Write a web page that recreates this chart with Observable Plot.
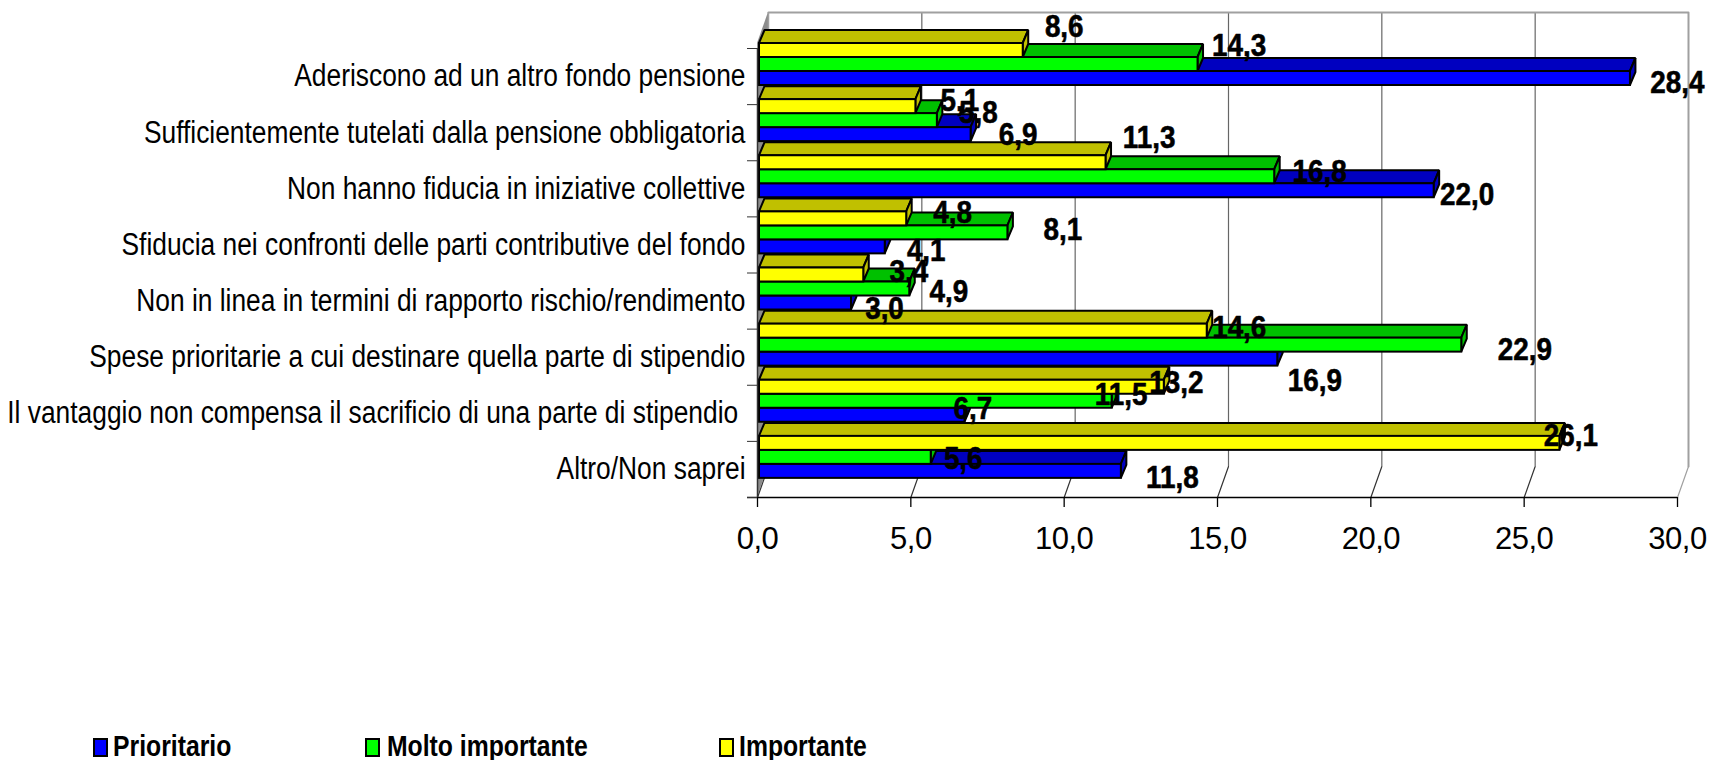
<!DOCTYPE html>
<html><head><meta charset="utf-8">
<script src="https://cdn.jsdelivr.net/npm/d3@7"></script>
<script src="https://cdn.jsdelivr.net/npm/@observablehq/plot@0.6"></script>
<style>
html,body{margin:0;padding:0;background:#fff;overflow:hidden}
#chart{width:1710px;height:760px;position:relative}
svg{display:block}
.ax text{letter-spacing:-.5px}
.leg{position:absolute;top:729px;font:bold 30px "Liberation Sans",Arial,sans-serif;color:#000;white-space:nowrap;transform:scaleX(.825);transform-origin:left center}
.sw{position:absolute;top:738px;box-sizing:border-box;width:15px;height:19px;border:2px solid #000}
</style></head><body><div id="chart"></div>
<script>
const categories = ["Aderiscono ad un altro fondo pensione","Sufficientemente tutelati dalla pensione obbligatoria","Non hanno fiducia in iniziative collettive","Sfiducia nei confronti delle parti contributive del fondo","Non in linea in termini di rapporto rischio/rendimento","Spese prioritarie a cui destinare quella parte di stipendio","Il vantaggio non compensa il sacrificio di una parte di stipendio\u00a0","Altro/Non saprei"];
const prioritario = [28.4,6.9,22.0,4.1,3.0,16.9,6.7,11.8];
const moltoImportante = [14.3,5.8,16.8,8.1,4.9,22.9,11.5,5.6];
const importante = [8.6,5.1,11.3,4.8,3.4,14.6,13.2,26.1];
const xTicks = [0,5,10,15,20,25,30];

// Series, in drawing order (lowest bar of each group first)
const series = [
  {name:"Prioritario", values:prioritario, front:"#0000ff", top:"#0000c0", slot:2},
  {name:"Molto importante", values:moltoImportante, front:"#00ff00", top:"#00c000", slot:1},
  {name:"Importante", values:importante, front:"#ffff00", top:"#c0c000", slot:0}
];
// Pixel nudges of the value labels, [dx, dy] by series then category
const labelShift = {
  "Prioritario":[[47,4],[47,0],[33,4],[41,4],[33,6],[37,22],[8,-7],[51,6]],
  "Molto importante":[[41,-19],[41,-8],[45,-5],[55,-3],[39,3],[63,5],[9,-7],[32,1]],
  "Importante":[[41,-24],[44,-6],[43,-25],[46,-6],[45,-3],[32,-3],[12,-5],[11,-8]]
};

const W = 1710, H = 570, left = 757, right = 1677, bottom = 497, firstTick = 48;
const pxX = (right-left)/30, pxY = (bottom-firstTick)/8;
const ux = p => p/pxX, uy = p => p/pxY;
const barH = uy(14), barStart = uy(-5), barX = ux(2);
const depthX = ux(5.5), depthY = uy(13);
const wallX = ux(11), wallY = uy(31);
const backTop = uy(12-firstTick);
const font = '"Liberation Sans",Arial,sans-serif';
const fmt = d => d.toFixed(1).replace(".",",");

const marks = [];
// Left wall
marks.push(Plot.areaY([{x:0,y1:barStart,y2:8},{x:wallX,y1:backTop,y2:8-wallY}],{x:"x",y1:"y1",y2:"y2",fill:"#8c8c8c"}));
// Back wall grid
marks.push(Plot.ruleX(xTicks.slice(1,-1),{x:d=>d+wallX,y1:backTop,y2:8-wallY,stroke:"#666",strokeWidth:1.2}));
marks.push(Plot.line([{x:wallX,y:backTop},{x:30+wallX,y:backTop},{x:30+wallX,y:8-wallY}],{x:"x",y:"y",stroke:"#a0a0a0",strokeWidth:2}));
marks.push(Plot.ruleX([0],{x:wallX,y1:backTop,y2:8-wallY,stroke:"#a0a0a0",strokeWidth:1.5}));
// Floor diagonals
xTicks.forEach(t=>{
  marks.push(Plot.line([{x:t,y:8},{x:t+wallX,y:8-wallY}],{x:"x",y:"y",stroke:t===30?"#a0a0a0":"#333",strokeWidth:1.2}));
});
// Bars
categories.forEach((c,k)=>{
  series.forEach(s=>{
    const v = s.values[k];
    const y1 = k+barStart+s.slot*barH, y2 = y1+barH;
    const xa = barX/1, xb = v+barX;
    const line = {stroke:"#000",strokeWidth:2,strokeLinejoin:"miter"};
    marks.push(Plot.areaX([{y:y1,x1:xa,x2:xb},{y:y1-depthY,x1:xa+depthX,x2:xb+depthX}],{x1:"x1",x2:"x2",y:"y",fill:s.top,...line}));
    marks.push(Plot.areaY([{x:xb,y1:y1,y2:y2},{x:xb+depthX,y1:y1-depthY,y2:y2-depthY}],{x:"x",y1:"y1",y2:"y2",fill:s.top,...line}));
    marks.push(Plot.rect([{x1:xa,x2:xb,y1,y2}],{x1:"x1",x2:"x2",y1:"y1",y2:"y2",fill:s.front,...line}));
  });
});
// Axes
marks.push(Plot.ruleY([8],{x1:-ux(10),x2:30,stroke:"#000",strokeWidth:1.3}));
marks.push(Plot.ruleX([0],{y1:0,y2:8,stroke:"#333",strokeWidth:1.5}));
marks.push(Plot.ruleX(xTicks,{y1:8,y2:8+uy(10),stroke:"#000",strokeWidth:1.3}));
marks.push(Plot.axisY(d3.range(0,9),{anchor:"left",tickSize:10,tickFormat:()=>"",label:null,stroke:"#333"}));
marks.push(Plot.axisX(xTicks,{anchor:"bottom",tickSize:0,tickPadding:29,tickFormat:fmt,label:null,fontSize:31,fill:"#000",className:"ax"}));
marks.push(Plot.text(categories,{x:0,y:(d,i)=>i+0.5,dx:-12,text:d=>d,textAnchor:"end",fontSize:31,fill:"#000",fontFamily:font,className:"squeezeCat"}));
// Value labels
series.forEach(s=>{
  s.values.forEach((v,k)=>{
    const [dx,dy] = labelShift[s.name][k];
    const yc = k+barStart+(s.slot+0.5)*barH;
    marks.push(Plot.text([v],{x:d=>d+barX,y:yc,dx,dy,text:fmt,fontSize:32,fontWeight:"bold",fill:"#000",stroke:"#000",strokeWidth:.6,fontFamily:font,className:"squeezeVal"}));
  });
});

const plot = Plot.plot({
  width:W,height:H,marginLeft:left,marginRight:W-right,marginTop:0,marginBottom:H-bottom,
  x:{domain:[0,30],axis:null},
  y:{domain:[8,-firstTick/pxY],axis:null},
  style:{fontFamily:font,background:"#fff",overflow:"visible"},
  marks
});
const root = document.getElementById("chart");
root.appendChild(plot);
// The reference's lettering is condensed: squeeze the real text horizontally
const squeeze = (sel,f)=>plot.querySelectorAll(sel).forEach(t=>{
  t.setAttribute("textLength",t.getComputedTextLength()*f);
  t.setAttribute("lengthAdjust","spacingAndGlyphs");
});
squeeze(".squeezeCat text",.85);
squeeze(".squeezeVal text",.87);
[["Prioritario","#0000ff",93,113],["Molto importante","#00ff00",365,387],["Importante","#ffff00",719,739]].forEach(([t,c,sx,tx])=>{
  const sw=document.createElement("div");sw.className="sw";sw.style.left=sx+"px";sw.style.background=c;root.appendChild(sw);
  const l=document.createElement("div");l.className="leg";l.style.left=tx+"px";l.textContent=t;root.appendChild(l);
});
</script></body></html>
